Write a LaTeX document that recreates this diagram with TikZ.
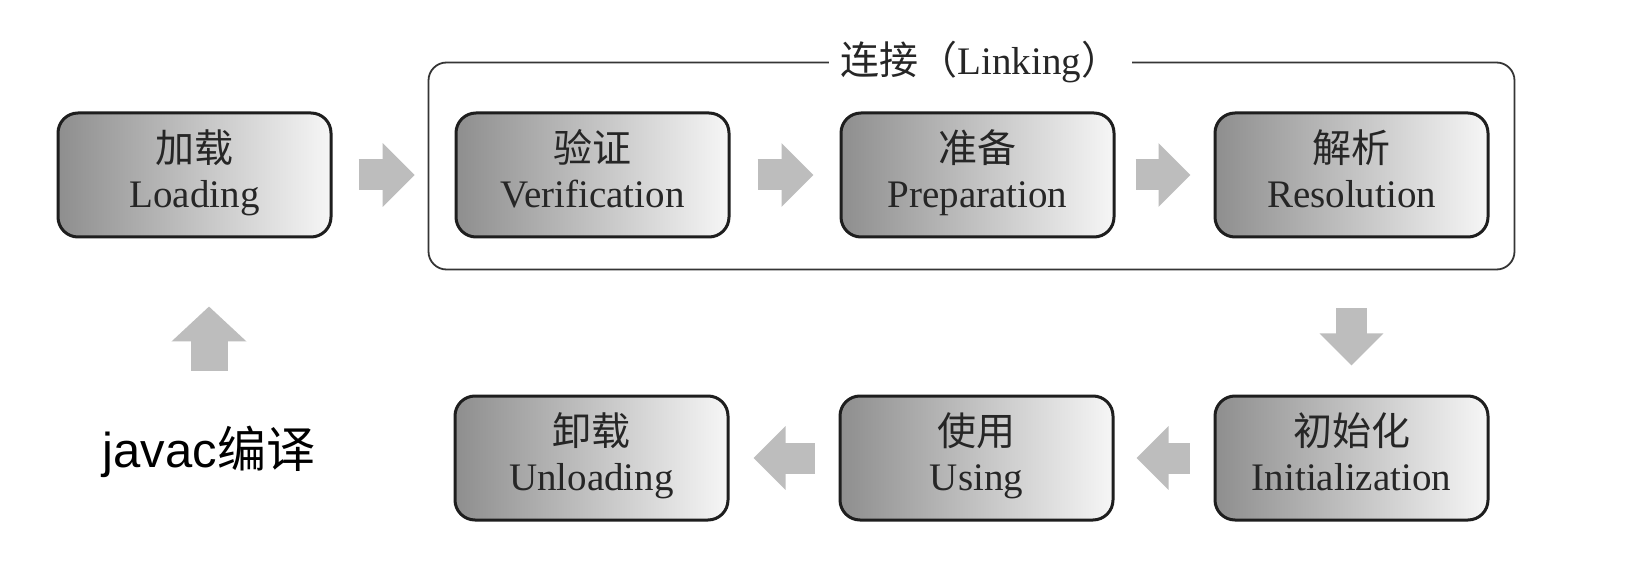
\documentclass[tikz,border=0pt]{standalone}
\usepackage{fontspec}
\setmainfont{Liberation Serif}
\newfontfamily\cjk{Noto Sans CJK SC}
\newfontfamily\srcfont{Liberation Sans}
\usetikzlibrary{arrows.meta,positioning,fit,calc}
\definecolor{Shade}{HTML}{8E8E8E}
\definecolor{Light}{HTML}{F6F6F6}
\definecolor{Flow}{HTML}{BDBDBD}
\definecolor{Rim}{HTML}{1E1E1E}
\tikzset{
 stage/.style={draw=Rim,line width=3pt,rounded corners=20pt,left color=Shade,right color=Light,
   minimum width=273pt,minimum height=124pt,align=center,inner sep=0pt,
   font=\fontsize{39}{45}\selectfont,text=black!85,execute at end node=\strut},
 linkframe/.style={draw=Rim!90,line width=1.8pt,rounded corners=18pt,inner sep=0pt},
 linklabel/.style={fill=white,inner xsep=12pt,font=\fontsize{39}{44}\selectfont,text=black!85},
 flow/.style={line width=31pt,draw=Flow,-{Triangle[length=32pt,width=62pt]}},
 srcnote/.style={inner sep=0pt,font=\fontsize{49}{54}\selectfont}
}

\begin{document}
\begin{tikzpicture}[x=1pt,y=-1pt]
\useasboundingbox[fill=white] (0,0) rectangle (1636,577);
\node[stage] (load) at (194.5,175) {{\cjk 加载}\\Loading};
\node[stage,right=122pt of load] (ver) {{\cjk 验证}\\Verification};
\node[stage,right=109pt of ver] (prep) {{\cjk 准备}\\Preparation};
\node[stage,right=98pt of prep] (res) {{\cjk 解析}\\Resolution};
\node[stage,below=156pt of res] (init) {{\cjk 初始化}\\Initialization};
\node[stage,left=99pt of init] (use) {{\cjk 使用}\\Using};
\node[stage,left=109pt of use] (unl) {{\cjk 卸载}\\Unloading};
% linking phase
\coordinate (lnw) at ($(ver.north west)+(-26,-49)$);
\coordinate (lse) at ($(res.south east)+(25,31)$);
\node[linkframe,fit=(lnw)(lse)] (link) {};
\node[linklabel] (linktitle) at ($(link.north)+(9,0)$) {{\cjk 连接（}Linking{\cjk ）}};
\node[srcnote] (javac) at (209,452) {\srcfont javac{\cjk 编译}};
% block arrows
\draw[flow,shorten <=26pt,shorten >=13pt] (load.east) -- (load.east -| link.west);
\draw[flow,shorten <=27pt,shorten >=26pt] (ver) -- (prep);
\draw[flow,shorten <=20pt,shorten >=23pt] (prep) -- (res);
\draw[flow,shorten <=70pt,shorten >=29pt] (res) -- (init);
\draw[flow,shorten <=24pt,shorten >=22pt] (init) -- (use);
\draw[flow,shorten <=24pt,shorten >=24pt] (use) -- (unl);
\draw[flow,line width=37pt,-{Triangle[length=35pt,width=73pt]},shorten <=55pt,shorten >=68pt] (javac.north) -- (javac.north |- load.south);
\end{tikzpicture}
\end{document}
